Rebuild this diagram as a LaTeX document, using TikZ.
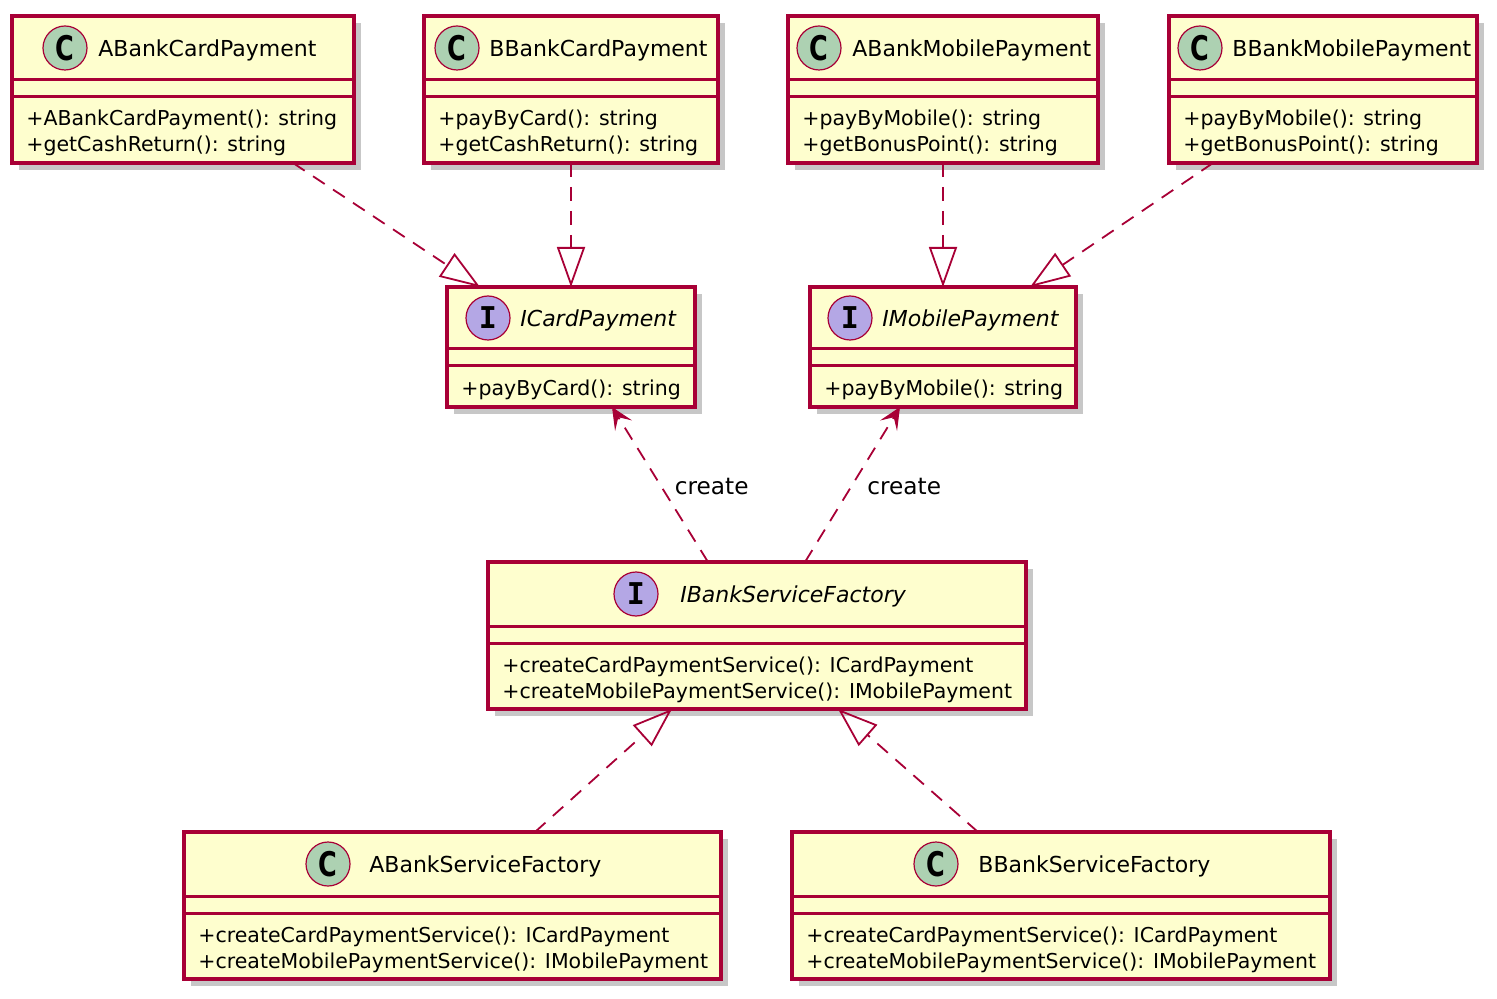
\documentclass[tikz,border=0pt]{standalone}
\usepackage{fontspec}
\setmainfont{DejaVu Sans}
\setmonofont{DejaVu Sans Mono}
\usetikzlibrary{arrows.meta,calc,shadows}

\definecolor{umlfill}{HTML}{FEFECE}
\definecolor{umlline}{HTML}{A80036}
\definecolor{classicon}{HTML}{ADD1B2}
\definecolor{ifaceicon}{HTML}{B4A7E5}

\tikzset{
  classbox/.style={draw=umlline, fill=umlfill, line width=1.6pt, inner sep=0pt, outer sep=0pt,
    minimum height=73.5pt,
    drop shadow={shadow xshift=3.5pt, shadow yshift=-3.5pt, fill=black, opacity=0.22}},
  ifacebox/.style={classbox, minimum height=60pt},
  sepline/.style={draw=umlline, line width=1.5pt},
  cicon/.style={circle, draw=umlline, line width=0.6pt, fill=classicon, minimum size=22pt, inner sep=0pt,
    font=\fontsize{17}{17}\selectfont\bfseries},
  iicon/.style={cicon, fill=ifaceicon, font=\fontsize{15}{15}\selectfont\ttfamily\bfseries},
  cname/.style={anchor=mid west, inner sep=0pt, yshift=-1.5pt, font=\fontsize{11}{13}\selectfont},
  iname/.style={cname, font=\fontsize{11}{13}\selectfont\itshape},
  member/.style={anchor=base west, inner sep=0pt, yshift=-1pt, font=\fontsize{10.25}{13}\selectfont},
  realize/.style={draw=umlline, line width=0.9pt, dash pattern=on 7pt off 5pt,
    -{Triangle[open, length=20pt, width=14pt, line width=0.9pt]}},
  uses/.style={draw=umlline, line width=0.9pt, dash pattern=on 7pt off 5pt,
    -{Stealth[length=11pt, width=10pt, inset=5pt, line width=0.5pt]}},
  lbl/.style={inner sep=0pt, font=\fontsize{11.6}{13}\selectfont}
}

\newcommand{\cletter}{\scalebox{0.75}[1]{C}}

\begin{document}
\begin{tikzpicture}[x=0.5pt, y=-0.5pt]
  \useasboundingbox (0,0) rectangle (1497,999);

  % card and mobile payment classes
  \node[classbox, minimum width=171pt] (acard) at (183,89.5) {};
  \node[classbox, minimum width=147pt] (bcard) at (571,89.5) {};
  \node[classbox, minimum width=155pt] (amobile) at (943,89.5) {};
  \node[classbox, minimum width=154pt] (bmobile) at (1323,89.5) {};

  % interfaces
  \node[ifacebox, minimum width=124pt] (icard) at (571,347) {};
  \node[ifacebox, minimum width=133pt] (imobile) at (943,347) {};

  % factories
  \node[classbox, minimum width=269pt] (ifactory) at (757,635.5) {};
  \node[classbox, minimum width=268.5pt] (afactory) at (452.5,905.5) {};
  \node[classbox, minimum width=269pt] (bfactory) at (1061,905.5) {};

  % compartments
  \foreach \b in {acard, bcard, amobile, bmobile, ifactory, afactory, bfactory} {
    \draw[sepline] ($(\b.north west)+(0,64)$) -- ($(\b.north east)+(0,64)$);
    \draw[sepline] ($(\b.north west)+(0,81)$) -- ($(\b.north east)+(0,81)$);
  }
  \foreach \b in {icard, imobile} {
    \draw[sepline] ($(\b.north west)+(0,62)$) -- ($(\b.north east)+(0,62)$);
    \draw[sepline] ($(\b.north west)+(0,79)$) -- ($(\b.north east)+(0,79)$);
  }

  % ABankCardPayment
  \node[cicon] (acardC) at (65,48) {\cletter};
  \node[cname] (acardN) at (98,48) {ABankCardPayment};
  \node[member] (acardM1) at (26,124) {+ABankCardPayment(): string};
  \node[member] (acardM2) at (26,150) {+getCashReturn(): string};

  % BBankCardPayment
  \node[cicon] (bcardC) at (457,48) {\cletter};
  \node[cname] (bcardN) at (489,48) {BBankCardPayment};
  \node[member] (bcardM1) at (438,124) {+payByCard(): string};
  \node[member] (bcardM2) at (438,150) {+getCashReturn(): string};

  % ABankMobilePayment
  \node[cicon] (amobileC) at (819,48) {\cletter};
  \node[cname] (amobileN) at (852,48) {ABankMobilePayment};
  \node[member] (amobileM1) at (802,124) {+payByMobile(): string};
  \node[member] (amobileM2) at (802,150) {+getBonusPoint(): string};

  % BBankMobilePayment
  \node[cicon] (bmobileC) at (1200,48) {\cletter};
  \node[cname] (bmobileN) at (1232,48) {BBankMobilePayment};
  \node[member] (bmobileM1) at (1183,124) {+payByMobile(): string};
  \node[member] (bmobileM2) at (1183,150) {+getBonusPoint(): string};

  % ICardPayment
  \node[iicon] (icardI) at (488,318) {I};
  \node[iname] (icardN) at (520,318) {ICardPayment};
  \node[member] (icardM1) at (461,394) {+payByCard(): string};

  % IMobilePayment
  \node[iicon] (imobileI) at (850,318) {I};
  \node[iname] (imobileN) at (882,318) {IMobilePayment};
  \node[member] (imobileM1) at (824,394) {+payByMobile(): string};

  % IBankServiceFactory
  \node[iicon] (ifactoryI) at (636,594) {I};
  \node[iname] (ifactoryN) at (680,594) {IBankServiceFactory};
  \node[member] (ifactoryM1) at (502,670) {+createCardPaymentService(): ICardPayment};
  \node[member] (ifactoryM2) at (502,696) {+createMobilePaymentService(): IMobilePayment};

  % ABankServiceFactory
  \node[cicon] (afactoryC) at (328,864) {\cletter};
  \node[cname] (afactoryN) at (369,864) {ABankServiceFactory};
  \node[member] (afactoryM1) at (198,940) {+createCardPaymentService(): ICardPayment};
  \node[member] (afactoryM2) at (198,966) {+createMobilePaymentService(): IMobilePayment};

  % BBankServiceFactory
  \node[cicon] (bfactoryC) at (936,864) {\cletter};
  \node[cname] (bfactoryN) at (978,864) {BBankServiceFactory};
  \node[member] (bfactoryM1) at (806,940) {+createCardPaymentService(): ICardPayment};
  \node[member] (bfactoryM2) at (806,966) {+createMobilePaymentService(): IMobilePayment};

  % realizations
  \draw[realize] ($(acard.south west)+(281,0)$) -- ($(icard.north west)+(33,0)$);
  \draw[realize] (bcard.south) -- (icard.north);
  \draw[realize] (amobile.south) -- (imobile.north);
  \draw[realize] ($(bmobile.south west)+(44,0)$) -- ($(imobile.north west)+(220,0)$);
  \draw[realize] ($(afactory.north west)+(351,0)$) -- ($(ifactory.south west)+(184,0)$);
  \draw[realize] ($(bfactory.north west)+(186,0)$) -- ($(ifactory.south west)+(350,0)$);

  % create dependencies
  \draw[uses] ($(ifactory.north west)+(220,0)$) -- node[lbl, midway, anchor=west, xshift=7pt, yshift=-1pt] (create1) {create}
    ($(icard.south west)+(165,0)$);
  \draw[uses] ($(ifactory.north west)+(317,0)$) -- node[lbl, midway, anchor=west, xshift=7pt, yshift=-1pt] (create2) {create}
    ($(imobile.south west)+(90,0)$);
\end{tikzpicture}
\end{document}
